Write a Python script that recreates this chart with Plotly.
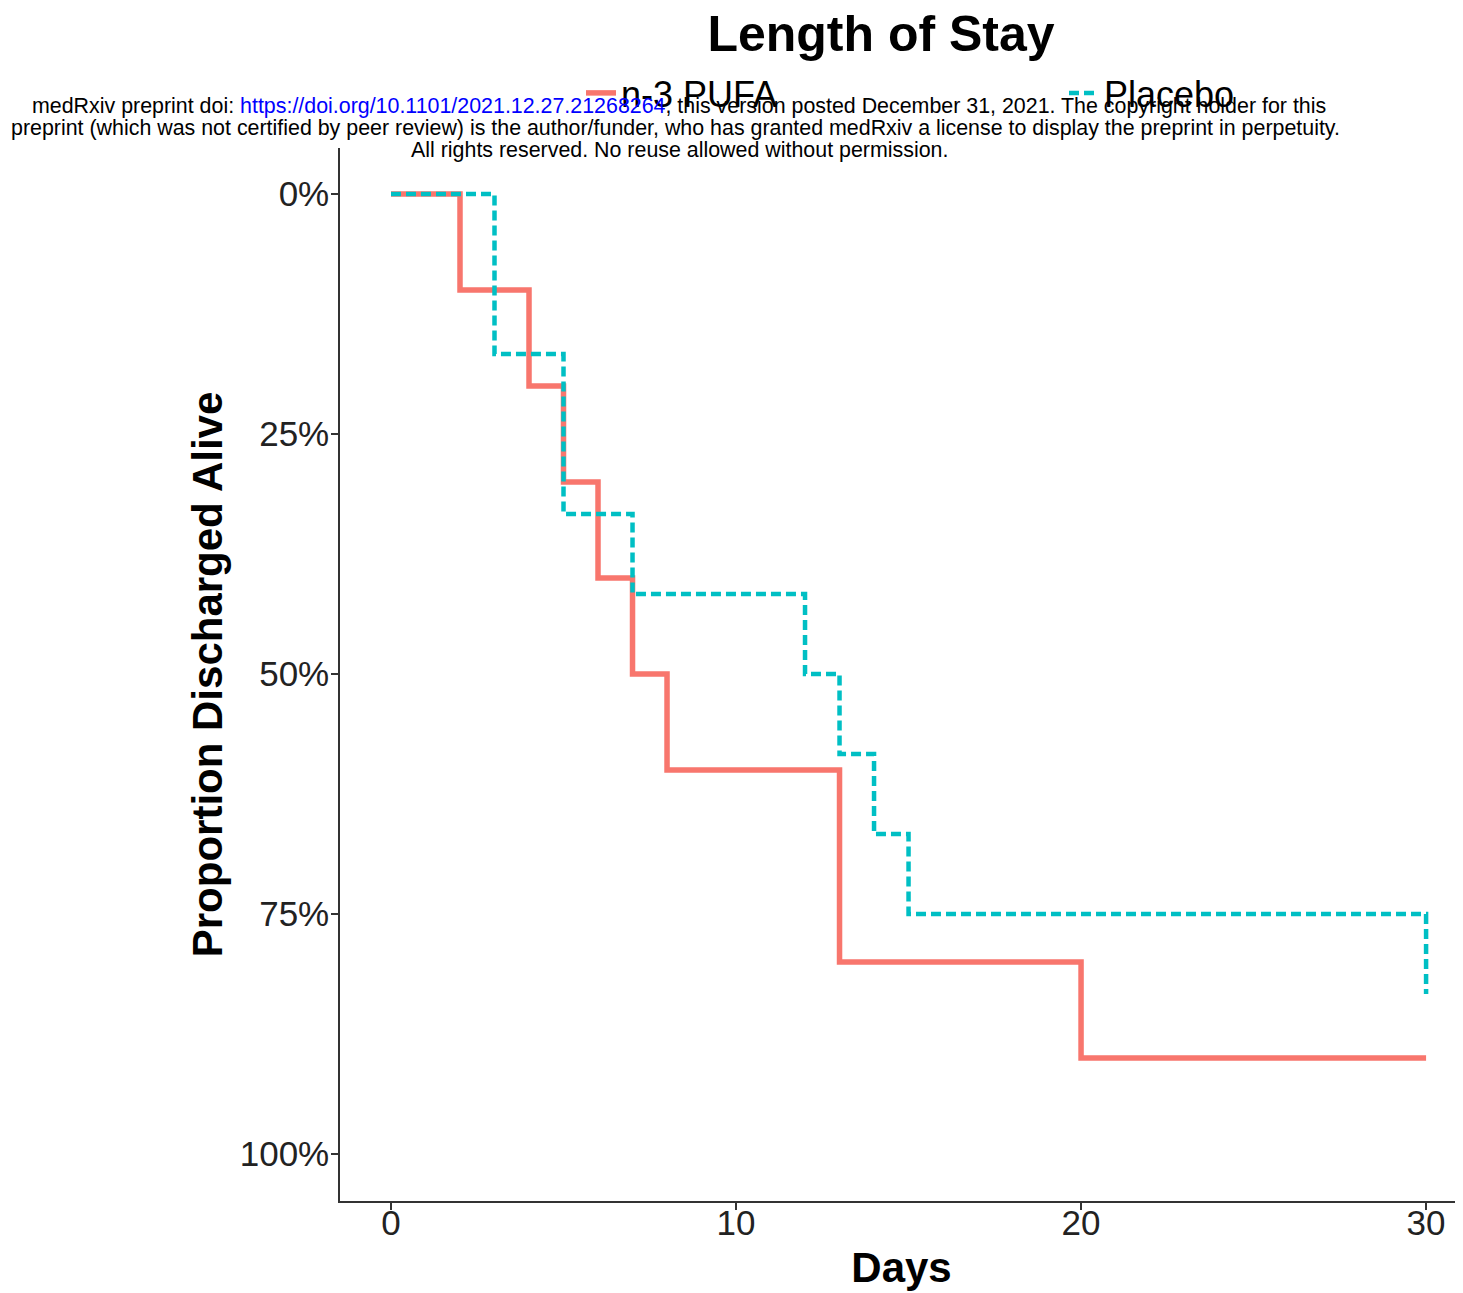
import plotly.graph_objects as go

# Data
pufa_days = [0, 2, 4, 5, 6, 7, 8, 13, 20, 30]
pufa_pct = [0, 10, 20, 30, 40, 50, 60, 80, 90, 90]
placebo_days = [0, 3, 5, 7, 12, 13, 14, 15, 30]
placebo_pct = [0, 16.67, 33.33, 41.67, 50, 58.33, 66.67, 75, 83.33]
x_ticks = [0, 10, 20, 30]
y_ticks = [0, 25, 50, 75, 100]
y_tick_labels = ["0%", "25%", "50%", "75%", "100%"]

FONT = "Liberation Sans, Arial, sans-serif"
RED = "#F8766D"
TEAL = "#00BFC4"

fig = go.Figure()
fig.add_trace(go.Scatter(x=pufa_days, y=pufa_pct, mode="lines", name="n-3 PUFA",
                         legend="legend",
                         line=dict(color=RED, width=5.5, shape="hv")))
fig.add_trace(go.Scatter(x=placebo_days, y=placebo_pct, mode="lines", name="Placebo",
                         legend="legend2",
                         line=dict(color=TEAL, width=4.5, shape="hv", dash="10px,5px")))

# page body has an 8px margin, so figure pixel = screen pixel - 8
W, H = 1455, 1285
L, R, T, B = 332, 0, 140, 92
PW, PH = W - L - R, H - T - B


def px_x(p):
    return (p - L) / PW


def px_y(p):
    return (H - B - p) / PH


leg_common = dict(xanchor="left", yanchor="middle", orientation="h",
                  font=dict(size=36, family=FONT, color="black"),
                  bgcolor="rgba(0,0,0,0)", borderwidth=0)

fig.update_layout(
    width=W, height=H,
    margin=dict(l=L, r=R, t=T, b=B, autoexpand=False),
    paper_bgcolor="white", plot_bgcolor="white",
    font=dict(family=FONT, color="black"),
    title=dict(text="<b>Length of Stay</b>", font=dict(size=50, family=FONT, color="black"),
               x=873 / W, xref="container", xanchor="center",
               y=1 - 25 / H, yref="container", yanchor="middle"),
    showlegend=True,
    legend=dict(x=px_x(573), y=px_y(85), **leg_common),
    legend2=dict(x=px_x(1056), y=px_y(85), **leg_common),
    xaxis=dict(range=[-1.478, 31.07], tickvals=x_ticks, ticks="outside", ticklen=7,
               tickwidth=1.5, tickcolor="#333", showline=True, linecolor="#333", linewidth=1.5,
               showgrid=False, zeroline=False, automargin=False, ticklabelstandoff=-17,
               tickfont=dict(size=35, family=FONT, color="#222"),
               title=dict(text="<b>Days</b>", font=dict(size=42, family=FONT, color="black"),
                          standoff=12)),
    yaxis=dict(range=[104.9, -4.79], tickvals=y_ticks, ticktext=y_tick_labels,
               ticks="outside", ticklen=7, tickwidth=1.5, tickcolor="#333", showline=True,
               linecolor="#333", linewidth=1.5, showgrid=False, zeroline=False,
               automargin=False, ticklabelstandoff=-5,
               tickfont=dict(size=35, family=FONT, color="#222"),
               title=dict(text="<b>Proportion Discharged Alive</b>",
                          font=dict(size=42, family=FONT, color="black"), standoff=4)),
)

note_lines = [
    "medRxiv preprint doi: <span style='color:blue'>https://doi.org/10.1101/2021.12.27.21268264</span>, "
    "this version posted December 31, 2021. The copyright holder for this",
    "preprint (which was not certified by peer review) is the author/funder, who has granted "
    "medRxiv a license to display the preprint in perpetuity.",
    "All rights reserved. No reuse allowed without permission.",
]
note_y = [98, 120, 142]
note_x = [671, 667, 671]
for txt, xx, yy in zip(note_lines, note_x, note_y):
    fig.add_annotation(text=txt, xref="paper", yref="paper",
                       x=px_x(xx), xanchor="center",
                       y=px_y(yy), yanchor="middle",
                       showarrow=False, align="center",
                       font=dict(size=21.4, family=FONT, color="black"))

fig.write_html("out.html")
